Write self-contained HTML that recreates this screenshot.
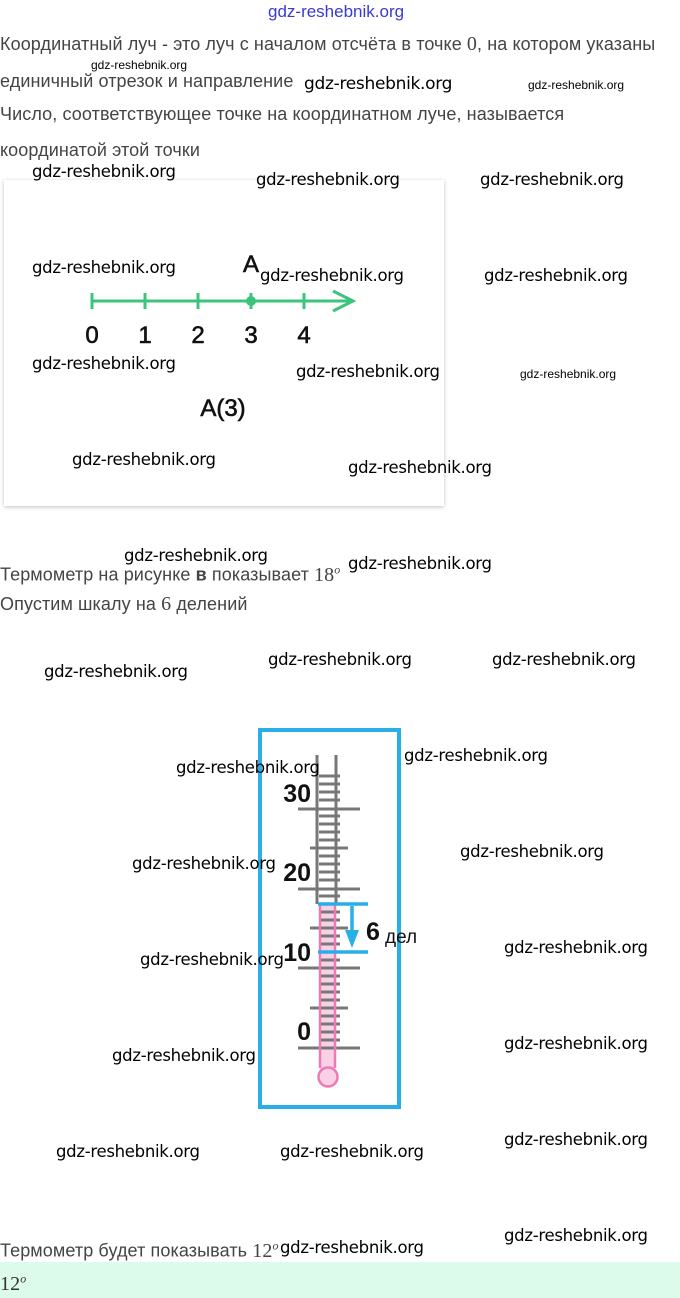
<!DOCTYPE html>
<html><head><meta charset="utf-8"><style>
html,body{margin:0;padding:0;background:#fff;}
body{width:680px;height:1298px;position:relative;overflow:hidden;font-family:"Liberation Sans",sans-serif;}
.t{position:absolute;left:0;font-size:18px;letter-spacing:0.1px;color:#444;white-space:nowrap;line-height:20px;}
.s{font-family:"Liberation Serif",serif;font-size:20px;}
.w{position:absolute;font-family:"DejaVu Sans","Liberation Sans",sans-serif;font-size:16.5px;color:#000;white-space:nowrap;line-height:18px;letter-spacing:-0.3px;}
.ws{position:absolute;font-family:"Liberation Sans Narrow","Liberation Sans",sans-serif;font-size:12px;color:#000;white-space:nowrap;}
.card{position:absolute;left:4px;top:180px;width:440px;height:326px;background:#fff;box-shadow:0 1px 4px rgba(0,0,0,0.25);}
.band{position:absolute;left:0;top:1262px;width:680px;height:36px;background:#dcfbeb;}
svg{position:absolute;left:0;top:0;}
sup{font-size:12px;font-style:italic;}
</style></head><body>
<div style="position:absolute;left:268px;top:2px;font-size:17px;color:#3a3ad0;font-family:'Liberation Sans Narrow','Liberation Sans',sans-serif;">gdz-reshebnik.org</div>
<div class="t" style="top:34px">Координатный луч - это луч с началом отсчёта в точке <span class="s">0</span>, на котором указаны</div>
<div class="t" style="top:71px">единичный отрезок и направление</div>
<div class="t" style="top:104px">Число, соответствующее точке на координатном луче, называется</div>
<div class="t" style="top:140px">координатой этой точки</div>
<div class="ws" style="left:91px;top:58px">gdz-reshebnik.org</div>
<div class="w" style="left:304px;top:75px;font-size:17px">gdz-reshebnik.org</div>
<div class="ws" style="left:528px;top:78px">gdz-reshebnik.org</div>

<div class="card"></div>
<div class="band"></div>

<div class="t" style="top:559px">Термометр на рисунке <b>в</b> показывает <span class="s">18<sup>o</sup></span></div>
<div class="t" style="top:594px">Опустим шкалу на <span class="s">6</span> делений</div>
<div class="t" style="top:1235px">Термометр будет показывать <span class="s">12<sup>o</sup></span></div>
<div class="t" style="top:1268px;color:#333"><span class="s">12<sup>o</sup></span></div>

<svg width="680" height="1298" viewBox="0 0 680 1298">
<g stroke="#3cc47c" stroke-width="3" fill="none">
<line x1="92" y1="301" x2="352" y2="301"/>
<polyline points="333,291 353,301 333,311"/>
<line x1="92" y1="293" x2="92" y2="309"/>
<line x1="145" y1="293" x2="145" y2="309"/>
<line x1="198" y1="293" x2="198" y2="309"/>
<line x1="304" y1="293" x2="304" y2="309"/>
<line x1="251" y1="293" x2="251" y2="309"/>
</g>
<circle cx="251" cy="301" r="5" fill="#3cc47c"/>
<g font-family="'Liberation Sans Narrow','Liberation Sans',sans-serif" font-size="24" fill="#111" text-anchor="middle" stroke="#111" stroke-width="0.6">
<text x="92" y="343">0</text><text x="145" y="343">1</text><text x="198" y="343">2</text><text x="251" y="343">3</text><text x="304" y="343">4</text>
<text x="251" y="272">A</text><text x="223" y="416">A(3)</text>
</g>

<rect x="260" y="730" width="139" height="377" fill="none" stroke="#29aee8" stroke-width="4"/>
<rect x="320" y="904" width="15" height="166" fill="#f9d0e6"/>
<g stroke="#777" stroke-width="3">
<line x1="317" y1="755" x2="317" y2="904"/><line x1="336" y1="755" x2="336" y2="904"/>
<line x1="298" y1="809" x2="360" y2="809"/><line x1="298" y1="889" x2="360" y2="889"/><line x1="298" y1="968" x2="360" y2="968"/><line x1="298" y1="1048" x2="360" y2="1048"/>
<line x1="310" y1="848" x2="348" y2="848"/><line x1="310" y1="928" x2="348" y2="928"/><line x1="310" y1="1008" x2="348" y2="1008"/>
<line x1="319" y1="776" x2="340" y2="776"/><line x1="319" y1="784" x2="340" y2="784"/><line x1="319" y1="792" x2="340" y2="792"/><line x1="319" y1="800" x2="340" y2="800"/>
<line x1="319" y1="816" x2="340" y2="816"/><line x1="319" y1="824" x2="340" y2="824"/><line x1="319" y1="832" x2="340" y2="832"/><line x1="319" y1="840" x2="340" y2="840"/>
<line x1="319" y1="856" x2="340" y2="856"/><line x1="319" y1="864" x2="340" y2="864"/><line x1="319" y1="872" x2="340" y2="872"/><line x1="319" y1="880" x2="340" y2="880"/>
<line x1="319" y1="896" x2="340" y2="896"/><line x1="319" y1="912" x2="340" y2="912"/><line x1="319" y1="920" x2="340" y2="920"/>
<line x1="319" y1="936" x2="340" y2="936"/><line x1="319" y1="944" x2="340" y2="944"/><line x1="319" y1="960" x2="340" y2="960"/>
<line x1="319" y1="976" x2="340" y2="976"/><line x1="319" y1="984" x2="340" y2="984"/><line x1="319" y1="992" x2="340" y2="992"/><line x1="319" y1="1000" x2="340" y2="1000"/>
<line x1="319" y1="1016" x2="340" y2="1016"/><line x1="319" y1="1024" x2="340" y2="1024"/><line x1="319" y1="1032" x2="340" y2="1032"/><line x1="319" y1="1040" x2="340" y2="1040"/>
</g>
<g stroke="#ee7ab4" stroke-width="2.5" fill="none">
<line x1="320" y1="904" x2="320" y2="1068"/><line x1="335" y1="904" x2="335" y2="1068"/>
</g>
<circle cx="328" cy="1077" r="9.5" fill="#f9d0e6" stroke="#ee7ab4" stroke-width="2.5"/>
<g stroke="#29aee8" stroke-width="3.5">
<line x1="318" y1="904" x2="368" y2="904"/><line x1="318" y1="952" x2="368" y2="952"/>
<line x1="352" y1="906" x2="352" y2="934"/>
</g>
<polygon points="345,930 359,930 352,948" fill="#29aee8"/>
<g font-family="'Liberation Sans',sans-serif" font-weight="bold" font-size="25" fill="#111" text-anchor="end">
<text x="311" y="802">30</text><text x="311" y="881">20</text><text x="311" y="961">10</text><text x="311" y="1040">0</text>
</g>
<text x="366" y="940" font-family="'Liberation Sans',sans-serif" font-weight="bold" font-size="25" fill="#111">6</text>
<text x="385" y="943" font-family="'Liberation Sans',sans-serif" font-size="19" fill="#111">дел</text>
</svg>

<div class="w" style="left:32px;top:163px">gdz-reshebnik.org</div>
<div class="w" style="left:256px;top:171px">gdz-reshebnik.org</div>
<div class="w" style="left:480px;top:171px">gdz-reshebnik.org</div>
<div class="w" style="left:32px;top:259px">gdz-reshebnik.org</div>
<div class="w" style="left:260px;top:267px">gdz-reshebnik.org</div>
<div class="w" style="left:484px;top:267px">gdz-reshebnik.org</div>
<div class="w" style="left:32px;top:355px">gdz-reshebnik.org</div>
<div class="w" style="left:296px;top:363px">gdz-reshebnik.org</div>
<div class="ws" style="left:520px;top:367px">gdz-reshebnik.org</div>
<div class="w" style="left:72px;top:451px">gdz-reshebnik.org</div>
<div class="w" style="left:348px;top:459px">gdz-reshebnik.org</div>
<div class="w" style="left:124px;top:547px">gdz-reshebnik.org</div>
<div class="w" style="left:348px;top:555px">gdz-reshebnik.org</div>
<div class="w" style="left:44px;top:663px">gdz-reshebnik.org</div>
<div class="w" style="left:268px;top:651px">gdz-reshebnik.org</div>
<div class="w" style="left:492px;top:651px">gdz-reshebnik.org</div>
<div class="w" style="left:176px;top:759px">gdz-reshebnik.org</div>
<div class="w" style="left:404px;top:747px">gdz-reshebnik.org</div>
<div class="w" style="left:132px;top:855px">gdz-reshebnik.org</div>
<div class="w" style="left:460px;top:843px">gdz-reshebnik.org</div>
<div class="w" style="left:140px;top:951px">gdz-reshebnik.org</div>
<div class="w" style="left:504px;top:939px">gdz-reshebnik.org</div>
<div class="w" style="left:112px;top:1047px">gdz-reshebnik.org</div>
<div class="w" style="left:504px;top:1035px">gdz-reshebnik.org</div>
<div class="w" style="left:56px;top:1143px">gdz-reshebnik.org</div>
<div class="w" style="left:280px;top:1143px">gdz-reshebnik.org</div>
<div class="w" style="left:504px;top:1131px">gdz-reshebnik.org</div>
<div class="w" style="left:280px;top:1239px">gdz-reshebnik.org</div>
<div class="w" style="left:504px;top:1227px">gdz-reshebnik.org</div>
</body></html>
